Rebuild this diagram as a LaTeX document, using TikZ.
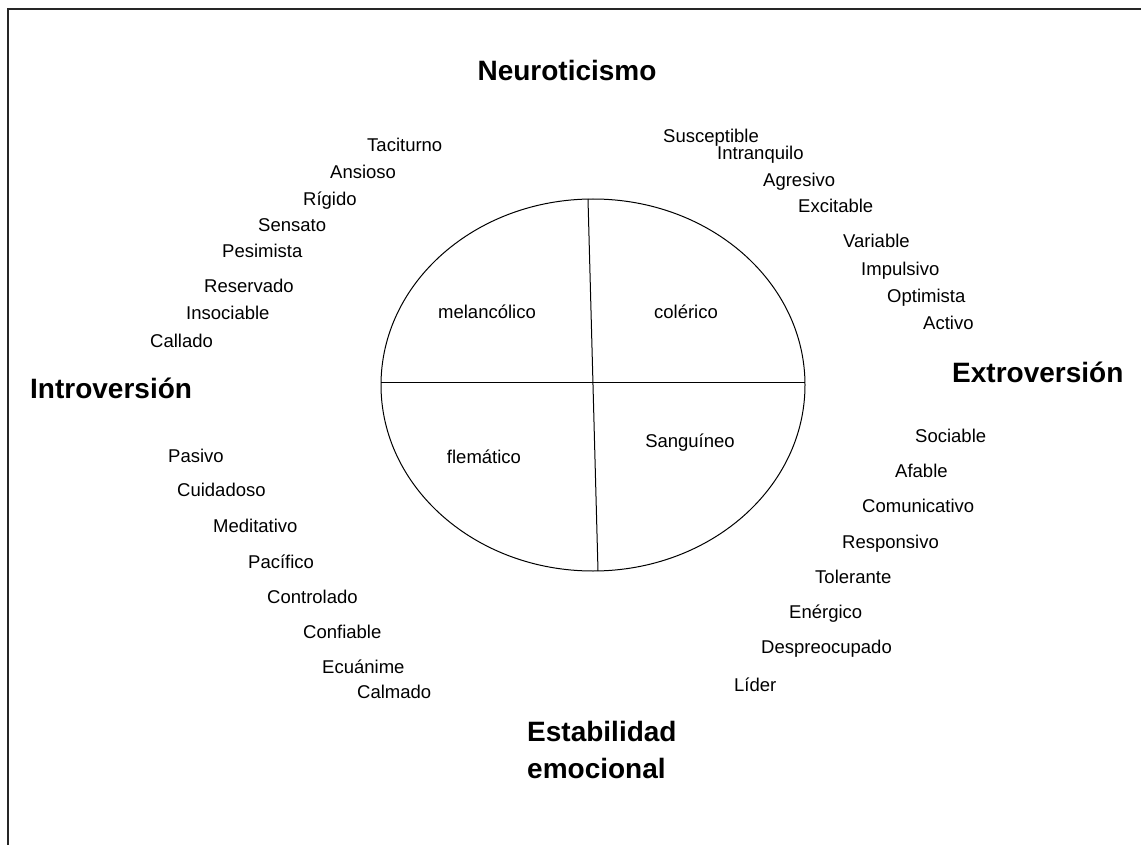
\documentclass[tikz,border=0pt]{standalone}
\usepackage{fontspec}
\setmainfont{Liberation Sans}
\usepackage{xcolor}
\usepackage{tikz}
\usetikzlibrary{shapes.geometric}

\begin{document}
\begin{tikzpicture}[x=1pt,y=-1pt,
wort/.style={anchor=base west, inner sep=0pt, font=\fontsize{18.5}{20}\selectfont},
titel/.style={wort, font=\fontsize{28}{37}\selectfont\bfseries},
typ/.style={wort, anchor=base},
]
\useasboundingbox (0,0) rectangle (1141,845);
\draw[line width=2.2pt, black!85] (8,845) -- (8,9) -- (1141,9);

\node[ellipse, draw, line width=1pt, minimum width=424pt, minimum height=372pt, inner sep=0pt] (temp) at (593,385){};
\coordinate (oben) at (588,199);
\coordinate (unten) at (598,571);
\coordinate (links) at (381,382);
\coordinate (rechts) at (805,382);
\draw[line width=1pt] (links) -- (rechts);
\draw[line width=1pt] (oben) -- (unten);

\node[typ] (mel) at (487,318){melancólico};
\node[typ] (col) at (686,318){colérico};
\node[typ] (fle) at (484,463){flemático};
\node[typ] (san) at (690,447){Sanguíneo};

\node[titel, anchor=base] (neu) at (567,81){Neuroticismo};
\node[titel] (intro) at (30,398){Introversión};
\node[titel] (extro) at (952,382){Extroversión};
\node[titel, anchor=north west, align=left] (stab) at (527,721){Estabilidad\\emocional};

\node[wort] (w1) at (367,152){Taciturno};
\node[wort] (w2) at (330,179){Ansioso};
\node[wort] (w3) at (303,206){Rígido};
\node[wort] (w4) at (258,232){Sensato};
\node[wort] (w5) at (222,258){Pesimista};
\node[wort] (w6) at (204,293){Reservado};
\node[wort] (w7) at (186,319){Insociable};
\node[wort] (w8) at (150,347){Callado};

\node[wort] (w9) at (663,143){Susceptible};
\node[wort] (w10) at (717,160){Intranquilo};
\node[wort] (w11) at (763,187){Agresivo};
\node[wort] (w12) at (798,213){Excitable};
\node[wort] (w13) at (843,248){Variable};
\node[wort] (w14) at (861,276){Impulsivo};
\node[wort] (w15) at (887,302){Optimista};
\node[wort] (w16) at (923,329){Activo};

\node[wort] (w17) at (168,462){Pasivo};
\node[wort] (w18) at (177,496){Cuidadoso};
\node[wort] (w19) at (213,532){Meditativo};
\node[wort] (w20) at (248,568){Pacífico};
\node[wort] (w21) at (267,603){Controlado};
\node[wort] (w22) at (303,638){Confiable};
\node[wort] (w23) at (322,673){Ecuánime};
\node[wort] (w24) at (357,698){Calmado};

\node[wort] (w25) at (915,442){Sociable};
\node[wort] (w26) at (895,477){Afable};
\node[wort] (w27) at (862,512){Comunicativo};
\node[wort] (w28) at (842,548){Responsivo};
\node[wort] (w29) at (815,583){Tolerante};
\node[wort] (w30) at (789,618){Enérgico};
\node[wort] (w31) at (761,653){Despreocupado};
\node[wort] (w32) at (734,691){Líder};

\end{tikzpicture}
\end{document}
